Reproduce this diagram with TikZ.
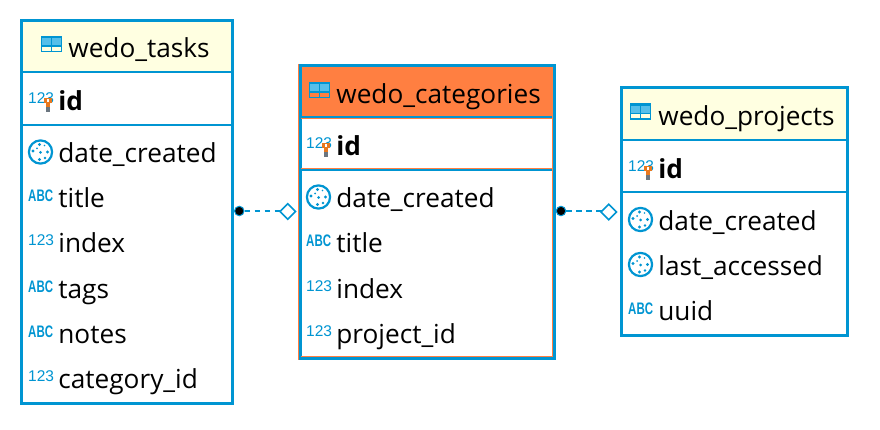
\documentclass[tikz,border=0pt]{standalone}
\usepackage{fontspec}
\usepackage{graphicx}
\setmainfont{Open Sans}
\newfontfamily\iconfont{Liberation Sans}
\definecolor{blu}{HTML}{0095D2}
\definecolor{lightblu}{HTML}{55BFEA}
\definecolor{yel}{HTML}{FFFFE1}
\definecolor{org}{HTML}{FF7F41}
\definecolor{keyorange}{HTML}{E8781E}
\definecolor{keygray}{HTML}{6B7680}
\tikzset{
 x=1pt,y=-1pt,
 tablebox/.style={draw=blu,line width=3pt,fill=white},
 sep/.style={draw=blu,line width=2pt},
 head/.style={inner sep=0pt,anchor=base west,font=\fontsize{26.2}{30}\selectfont,text=black},
 fld/.style={inner sep=0pt,anchor=base west,font=\fontsize{26.2}{30}\selectfont,text=black},
 idf/.style={inner sep=0pt,anchor=base west,font=\fontsize{26.2}{30}\selectfont\bfseries,text=black},
 num/.style={inner sep=0pt,anchor=base west,font=\iconfont\fontsize{15.5}{16}\selectfont,text=blu},
 abc/.style={inner sep=0pt,anchor=base west,font=\iconfont\bfseries\fontsize{11.5}{12}\selectfont,text=blu},
 conn/.style={draw=blu,line width=1.2pt,dash pattern=on 5.7pt off 4.3pt,dash phase=4.7pt},
 dia/.style={draw=blu,line width=1.6pt,fill=white},
 dot/.style={circle,fill=black,draw=blu,line width=1pt,minimum size=9.5pt,inner sep=0pt},
}
\newcommand{\tblicon}[2]{%
 \fill[lightblu] (#1,#2) rectangle ++(21,9.5);
 \draw[blu,line width=1.4pt] (#1+.7,#2+.7) rectangle ++(19.6,15) (#1,#2+10) -- ++(21,0) (#1+10.5,#2+2) -- ++(0,14);
 \fill[blu] (#1,#2) rectangle ++(21,2.5);}
\newcommand{\clockicon}[2]{%
 \draw[blu,line width=2.2pt] (#1,#2) circle[radius=11.6];
 \fill[blu] (#1,#2+.5) circle[radius=1.5] (#1-1,#2-7.5) circle[radius=1.6] (#1+4,#2-6.5) circle[radius=.9]
 (#1-7.5,#2-1) circle[radius=1.6] (#1+7,#2) circle[radius=1.6] (#1-1,#2+7.5) circle[radius=1.6] (#1+4.5,#2+6) circle[radius=1.3] (#1-3.5,#2-3.5) circle[radius=1];}
\newcommand{\numicon}[2]{\node[num] at (#1,#2) {123};}
\newcommand{\keyicon}[2]{\node[num] at (#1,#2) {123};
 \fill[keyorange] (#1+16,#2-6) rectangle ++(8,5);
 \fill[white] (#1+18.7,#2-4.5) rectangle ++(2.6,2.2);
 \fill[keyorange] (#1+18.2,#2-1.5) rectangle ++(3.6,5);
 \fill[keygray] (#1+18.2,#2+3.5) rectangle ++(3.6,4.5);}
\newcommand{\abcicon}[2]{\node[abc] at (#1,#2) {\scalebox{1}[1.45]{ABC}};}
\begin{document}
\begin{tikzpicture}
\useasboundingbox (0,0) rectangle (880,430);
\fill[white] (0,0) rectangle (880,430);
% connectors
\coordinate (t1) at (239.3,211);
\coordinate (t2) at (287,211);
\coordinate (c1) at (561,211);
\coordinate (c2) at (608,211);
\draw[conn] (t1) -- (t2);
\draw[conn] (c1) -- (c2);
\node[dot] (d1) at (t1) {};
\node[dot] (d2) at (c1) {};
\draw[dia] (280,211.5) -- (287.8,203.7) -- (295.6,211.5) -- (287.8,219.3) -- cycle;
\draw[dia] (600.9,212) -- (608.7,204.2) -- (616.5,212) -- (608.7,219.8) -- cycle;
% tasks
\draw[tablebox] (21.5,20.5) rectangle (232.5,403);
\fill[yel] (23,22) rectangle (231,71.5);
\draw[sep] (23,72.5) -- (231.5,72.5) (23,125.5) -- (231.5,125.5);
\tblicon{41}{36}
\node[head] (tt) at (68.2,58) {wedo\_tasks};
\keyicon{28}{104}
\node[idf] (f1) at (58.2,111) {id};
\clockicon{40.5}{152}
\node[fld] at (58.2,163) {date\_created};
\abcicon{28}{202}
\node[fld] at (58.2,208) {title};
\numicon{28}{246}
\node[fld] at (58.2,253) {index};
\abcicon{28}{292}
\node[fld] at (58.2,298) {tags};
\abcicon{28}{337}
\node[fld] at (58.2,343) {notes};
\numicon{28}{381}
\node[fld] at (58.2,388) {category\_id};
% categories
\draw[draw=org,line width=4.5pt] (300,66) rectangle (554,358);
\draw[tablebox] (300,66) rectangle (554,358);
\fill[org] (301.5,67.5) rectangle (552.5,116);
\draw[sep] (301,117) -- (553,117) (301,170) -- (553,170);
\draw[org,line width=.8pt] (301,118.2) -- (553,118.2) (301,168.6)-- (553,168.6) (301,356.3)--(553,356.3) (552.7,67)--(552.7,357);
\tblicon{309}{82}
\node[head] at (336.2,103.5) {wedo\_categories};
\keyicon{306}{149}
\node[idf] at (336.2,156) {id};
\clockicon{318.5}{197}
\node[fld] at (336.2,208) {date\_created};
\abcicon{306}{247}
\node[fld] at (336.2,253) {title};
\numicon{306}{291}
\node[fld] at (336.2,298) {index};
\numicon{306}{336}
\node[fld] at (336.2,343) {project\_id};
% projects
\draw[tablebox] (621.5,87.5) rectangle (847.5,335);
\fill[yel] (623,89) rectangle (846,139.5);
\draw[sep] (623,140) -- (846.5,140) (623,192.5) -- (846.5,192.5);
\tblicon{630}{103.5}
\node[head] at (658.2,125.5) {wedo\_projects};
\keyicon{628}{172}
\node[idf] at (658.2,179) {id};
\clockicon{640.5}{219.5}
\node[fld] at (658.2,230.5) {date\_created};
\clockicon{640.5}{264.5}
\node[fld] at (658.2,275.5) {last\_accessed};
\abcicon{628}{314}
\node[fld] at (658.2,320.5) {uuid};
\end{tikzpicture}
\end{document}
